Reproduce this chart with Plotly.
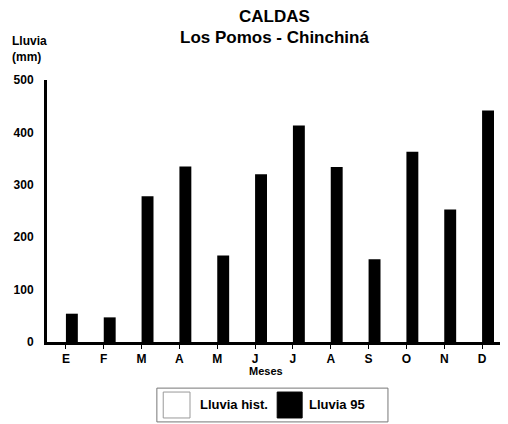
import plotly.graph_objects as go

meses = ["E", "F", "M", "A", "M", "J", "J", "A", "S", "O", "N", "D"]
lluvia_hist = [0, 0, 0, 0, 0, 0, 0, 0, 0, 0, 0, 0]
lluvia_95 = [54, 47, 278, 335, 165, 320, 413, 334, 158, 363, 253, 442]

# positions 0..11 so repeated month letters stay separate categories
x = list(range(len(meses)))

fnt = "Liberation Sans, Arial, sans-serif"

fig = go.Figure()
fig.add_trace(go.Bar(x=x, y=lluvia_hist, name="Lluvia hist.",
                     marker=dict(color="white", line=dict(width=0))))
fig.add_trace(go.Bar(x=x, y=lluvia_95, name="Lluvia 95",
                     marker=dict(color="black", line=dict(width=0))))

# page body has an 8px margin, so the figure is a bit smaller than the window
fig.update_layout(
    width=500, height=416,
    margin=dict(l=39, r=7, t=72, b=82),
    paper_bgcolor="white", plot_bgcolor="white",
    barmode="group", bargap=0.37, bargroupgap=0,
    showlegend=False,
    font=dict(family=fnt, color="black"),
)

fig.update_xaxes(
    tickmode="array", tickvals=x, ticktext=meses,
    range=[-0.5, 11.5],
    showline=True, linecolor="black", linewidth=3,
    ticks="outside", tickson="boundaries", ticklen=4, tickwidth=1, tickcolor="black",
    showgrid=False, zeroline=False,
    tickfont=dict(size=12, weight="bold"),
)
fig.update_yaxes(
    range=[0, 500], tickvals=[0, 100, 200, 300, 400, 500],
    showline=True, linecolor="black", linewidth=3,
    ticks="", showgrid=False, zeroline=False,
    tickfont=dict(size=12, weight="bold"), ticklabelstandoff=8,
)

# titles
fig.add_annotation(text="<b>CALDAS</b>", x=0.5, y=1.0, xref="paper", yref="paper",
                   xanchor="center", yanchor="bottom", yshift=52, showarrow=False,
                   font=dict(size=17))
fig.add_annotation(text="<b>Los Pomos - Chinchiná</b>", x=0.5, y=1.0, xref="paper", yref="paper",
                   xanchor="center", yanchor="bottom", yshift=31, showarrow=False,
                   font=dict(size=17))
fig.add_annotation(text="<b>Lluvia<br>(mm)</b>", x=-0.082, y=1.0, xref="paper", yref="paper",
                   xanchor="left", yanchor="bottom", yshift=14, showarrow=False,
                   align="left", font=dict(size=12))
fig.add_annotation(text="<b>Meses</b>", x=0.482, y=0, xref="paper", yref="paper",
                   xanchor="center", yanchor="top", yshift=-21, showarrow=False,
                   font=dict(size=11))

# legend box drawn by hand
fig.add_shape(type="rect", xref="paper", yref="paper",
              x0=0.242, x1=0.751, y0=-0.305, y1=-0.176,
              line=dict(color="#777777", width=1), fillcolor="white")
fig.add_shape(type="rect", xref="paper", yref="paper",
              x0=0.256, x1=0.315, y0=-0.290, y1=-0.191,
              line=dict(color="#999999", width=1), fillcolor="white")
fig.add_shape(type="rect", xref="paper", yref="paper",
              x0=0.507, x1=0.562, y0=-0.290, y1=-0.191,
              line=dict(color="black", width=1), fillcolor="black")
fig.add_annotation(text="<b>Lluvia hist.</b>", x=0.333, y=-0.240, xref="paper", yref="paper",
                   xanchor="left", yanchor="middle", showarrow=False, font=dict(size=13))
fig.add_annotation(text="<b>Lluvia 95</b>", x=0.573, y=-0.240, xref="paper", yref="paper",
                   xanchor="left", yanchor="middle", showarrow=False, font=dict(size=13))

fig.write_html("out.html")
